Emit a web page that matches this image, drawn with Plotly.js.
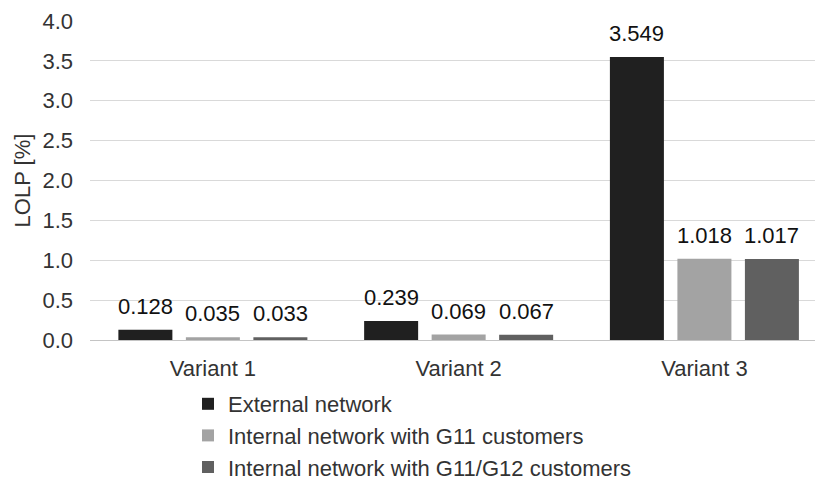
<!DOCTYPE html>
<html>
<head>
<meta charset="utf-8">
<script src="https://cdn.plot.ly/plotly-3.0.1.min.js"></script>
<style>
  html, body { margin: 0; padding: 0; background: #fff; }
  #chart { width: 815px; height: 479px; }
</style>
</head>
<body>
<div id="chart"></div>
<script>
// LOLP per network variant
const categories = ['Variant 1', 'Variant 2', 'Variant 3'];
const seriesNames = [
  'External network',
  'Internal network with G11 customers',
  'Internal network with G11/G12 customers'
];
const externalNetwork = [0.128, 0.239, 3.549];
const internalG11 = [0.035, 0.069, 1.018];
const internalG11G12 = [0.033, 0.067, 1.017];
const yTickValues = [0, 0.5, 1, 1.5, 2, 2.5, 3, 3.5, 4];

const seriesValues = [externalNetwork, internalG11, internalG11G12];
const seriesColors = ['#202020', '#a3a3a3', '#606060'];

const W = 815, H = 479;
const margin = { l: 90, r: 0, t: 21, b: 139, autoexpand: false };
const xRange = [-0.5, 2.45];
const barGap = 0.176;
const barGroupGap = 0.2;

const fontFamily = '"Liberation Sans", Arial, sans-serif';
const fontSize = 22;

const traces = seriesValues.map((vals, i) => ({
  type: 'bar',
  name: seriesNames[i],
  legendgroup: 'g' + i,
  x: categories,
  y: vals,
  marker: { color: seriesColors[i], line: { width: 0 } },
  hoverinfo: 'skip'
}));

// value labels sit above each bar, shifted to the bar's slot within the group
const plotWidth = W - margin.l - margin.r;
const plotHeight = H - margin.t - margin.b;
const pxPerCategory = plotWidth / (xRange[1] - xRange[0]);
const slot = pxPerCategory * (1 - barGap) / seriesValues.length;
const annotations = [];
seriesValues.forEach((vals, i) => {
  vals.forEach((v, j) => {
    annotations.push({
      x: categories[j],
      y: v,
      xref: 'x', yref: 'y',
      text: v.toFixed(3),
      showarrow: false,
      xanchor: 'center', yanchor: 'bottom',
      xshift: (i - (seriesValues.length - 1) / 2) * slot,
      yshift: 9,
      font: { family: fontFamily, size: fontSize, color: '#111111' }
    });
  });
});

const layout = {
  width: W,
  height: H,
  margin: margin,
  paper_bgcolor: '#ffffff',
  plot_bgcolor: '#ffffff',
  barmode: 'group',
  bargap: barGap,
  bargroupgap: barGroupGap,
  font: { family: fontFamily, size: fontSize, color: '#333333' },
  showlegend: true,
  legend: {
    orientation: 'v',
    x: (188 - margin.l) / plotWidth,
    xanchor: 'left',
    y: -(383 - (H - margin.b)) / plotHeight,
    yanchor: 'top',
    tracegroupgap: 1.5,
    font: { family: fontFamily, size: fontSize, color: '#333333' },
    bgcolor: 'rgba(0,0,0,0)',
    traceorder: 'normal'
  },
  xaxis: {
    type: 'category',
    range: xRange,
    showgrid: false,
    zeroline: false,
    showline: true,
    linecolor: '#c4c4c4',
    linewidth: 1,
    ticks: '',
    tickfont: { family: fontFamily, size: fontSize, color: '#333333' },
    ticklabelstandoff: 9,
    fixedrange: true
  },
  yaxis: {
    range: [0, 4],
    tickvals: yTickValues,
    ticktext: yTickValues.map(v => v.toFixed(1)),
    showgrid: true,
    gridcolor: '#d9d9d9',
    gridwidth: 1,
    zeroline: false,
    showline: false,
    ticks: '',
    ticklabelstandoff: 16,
    tickfont: { family: fontFamily, size: fontSize, color: '#333333' },
    title: {
      text: 'LOLP [%]',
      font: { family: fontFamily, size: fontSize, color: '#333333' },
      standoff: 5
    },
    fixedrange: true
  },
  annotations: annotations
};

Plotly.newPlot('chart', traces, layout, { displayModeBar: false, staticPlot: true });
</script>
</body>
</html>
